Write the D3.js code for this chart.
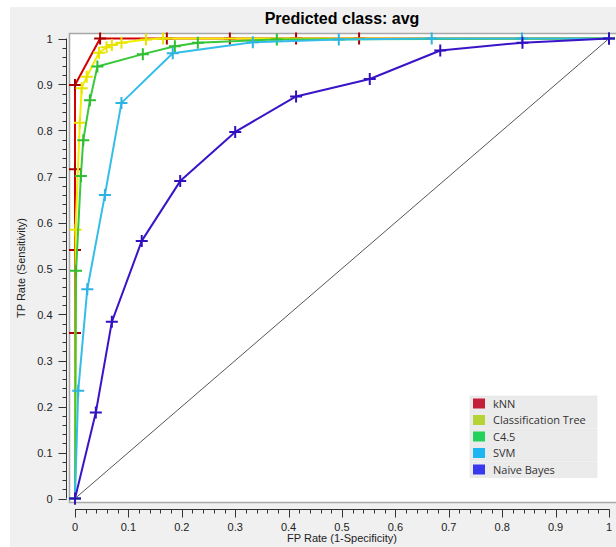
<!DOCTYPE html>
<html><head><meta charset="utf-8">
<script src="https://cdn.jsdelivr.net/npm/d3@7"></script>
<style>html,body{margin:0;padding:0;background:#fff;}svg{display:block;}</style>
</head><body>
<svg id="c" width="616" height="547"></svg>
<script>
// ---- data ----
const learners = ["kNN", "Classification Tree", "C4.5", "SVM", "Naive Bayes"];
const knnFpr  = [0, 0, 0, 0, 0, 0.047, 0.172, 0.29, 0.414, 0.532, 1];
const knnTpr  = [0, 0.36, 0.54, 0.716, 0.899, 1, 1, 1, 1, 1, 1];
const treeFpr = [0, 0.001, 0.009, 0.0125, 0.022, 0.045, 0.059, 0.069, 0.087, 0.133, 0.165, 1];
const treeTpr = [0, 0.584, 0.817, 0.892, 0.917, 0.969, 0.981, 0.986, 0.991, 0.998, 1, 1];
const c45Fpr  = [0, 0.002, 0.011, 0.0155, 0.028, 0.042, 0.127, 0.187, 0.23, 0.378, 1];
const c45Tpr  = [0, 0.495, 0.701, 0.779, 0.866, 0.939, 0.966, 0.983, 0.991, 0.998, 1];
const svmFpr  = [0, 0.006, 0.023, 0.056, 0.087, 0.183, 0.333, 0.494, 0.668, 0.837, 1];
const svmTpr  = [0, 0.234, 0.455, 0.66, 0.86, 0.968, 0.992, 0.998, 1, 1, 1];
const nbFpr   = [0, 0.039, 0.069, 0.125, 0.197, 0.30, 0.414, 0.552, 0.684, 0.838, 1];
const nbTpr   = [0, 0.187, 0.384, 0.56, 0.69, 0.797, 0.874, 0.912, 0.974, 0.991, 1];
const xTicks = [0, 0.1, 0.2, 0.3, 0.4, 0.5, 0.6, 0.7, 0.8, 0.9, 1];
const yTicks = [0, 0.1, 0.2, 0.3, 0.4, 0.5, 0.6, 0.7, 0.8, 0.9, 1];
const title = "Predicted class: avg";
const xTitle = "FP Rate (1-Specificity)";
const yTitle = "TP Rate (Sensitivity)";

// ---- style ----
const lineColors = ["#d40000", "#f2ee00", "#38c83a", "#35bde9", "#3a14c8"];
const markColors = ["#a80000", "#e8e400", "#2fbf32", "#2db4e2", "#3210c0"];
const swatchColors = ["#c41e3a", "#b5d334", "#22d25a", "#1db5f2", "#3838ee"];
const fprs = [knnFpr, treeFpr, c45Fpr, svmFpr, nbFpr];
const tprs = [knnTpr, treeTpr, c45Tpr, svmTpr, nbTpr];

const svg = d3.select("#c");
const font = "'Liberation Sans', Arial, sans-serif";

svg.append("rect").attr("x", 10).attr("y", 7).attr("width", 606).attr("height", 540).attr("fill", "#f0f0f0");
svg.append("rect").attr("x", 69.5).attr("y", 33.5).attr("width", 560).attr("height", 469)
  .attr("fill", "#fff").attr("stroke", "#a8a8a8").attr("stroke-width", 1.5);

const x = d3.scaleLinear().domain([0, 1]).range([75, 609]);
const y = d3.scaleLinear().domain([0, 1]).range([498.5, 38.5]);

// title
svg.append("text").attr("x", 342).attr("y", 24).attr("text-anchor", "middle")
  .attr("font-family", font).attr("font-weight", "bold").attr("font-size", 16).attr("fill", "#000").text(title);

// y axis
const yMinor = d3.range(0, 51).map(i => i / 50);
const yAx = svg.append("g").attr("transform", "translate(66.5,0)");
yAx.append("line").attr("y1", y(0)).attr("y2", y(1)).attr("stroke", "#333");
yAx.selectAll("line.mn").data(yMinor).join("line").attr("class", "mn")
  .attr("x1", -4).attr("x2", 0).attr("y1", d => Math.round(y(d)) + 0.5).attr("y2", d => Math.round(y(d)) + 0.5).attr("stroke", "#333");
yAx.selectAll("line.mj").data(yTicks).join("line").attr("class", "mj")
  .attr("x1", -8).attr("x2", 0).attr("y1", d => Math.round(y(d)) + 0.5).attr("y2", d => Math.round(y(d)) + 0.5).attr("stroke", "#333");
yAx.selectAll("text").data(yTicks).join("text")
  .attr("x", -14).attr("y", d => y(d) + 4).attr("text-anchor", "end")
  .attr("font-family", font).attr("font-size", 11).attr("fill", "#222").text(d => d3.format("")(d));

// x axis
const xMinor = d3.range(0, 51).map(i => i / 50);
const xAx = svg.append("g").attr("transform", "translate(0,509.5)");
xAx.append("line").attr("x1", x(0)).attr("x2", x(1)).attr("stroke", "#333");
xAx.selectAll("line.mn").data(xMinor).join("line").attr("class", "mn")
  .attr("y1", 0).attr("y2", 4).attr("x1", d => Math.round(x(d)) + 0.5).attr("x2", d => Math.round(x(d)) + 0.5).attr("stroke", "#333");
xAx.selectAll("line.mj").data(xTicks).join("line").attr("class", "mj")
  .attr("y1", 0).attr("y2", 8).attr("x1", d => Math.round(x(d)) + 0.5).attr("x2", d => Math.round(x(d)) + 0.5).attr("stroke", "#333");
xAx.selectAll("text").data(xTicks).join("text")
  .attr("x", d => x(d)).attr("y", 21).attr("text-anchor", "middle")
  .attr("font-family", font).attr("font-size", 11).attr("fill", "#222").text(d => d3.format("")(d));

svg.append("text").attr("x", 342).attr("y", 542).attr("text-anchor", "middle")
  .attr("font-family", font).attr("font-size", 11).attr("fill", "#222").text(xTitle);
svg.append("text").attr("transform", "translate(25,268) rotate(-90)").attr("text-anchor", "middle")
  .attr("font-family", font).attr("font-size", 11).attr("fill", "#222").text(yTitle);

// diagonal
svg.append("line").attr("x1", x(0)).attr("y1", y(0)).attr("x2", x(1)).attr("y2", y(1))
  .attr("stroke", "#555").attr("stroke-width", 1);

// curves: each learner's line followed by its markers
const line = d3.line().x(d => x(d[0])).y(d => y(d[1]));
const series = learners.map((name, i) => ({ name, i, pts: fprs[i].map((f, j) => [f, tprs[i][j]]) }));
series.forEach(s => {
  const g = svg.append("g");
  g.append("path").attr("d", line(s.pts)).attr("fill", "none").attr("stroke", lineColors[s.i])
    .attr("stroke-width", 2).attr("stroke-linejoin", "round");
  g.selectAll("path.mk").data(s.pts).join("path").attr("class", "mk")
    .attr("d", p => { const cx = x(p[0]), cy = y(p[1]); return `M${cx - 6},${cy}H${cx + 6}M${cx},${cy - 6}V${cy + 6}`; })
    .attr("stroke", markColors[s.i]).attr("stroke-width", 2).attr("fill", "none");
});

// legend
const lg = svg.append("g");
const rowH = 16.5, ly0 = 396;
learners.forEach((name, i) => {
  const ry = ly0 + i * rowH;
  lg.append("rect").attr("x", 470).attr("y", ry).attr("width", 127).attr("height", rowH - 1)
    .attr("fill", "#ebebeb").attr("stroke", "#e0e0e0").attr("stroke-width", 0.5);
  lg.append("rect").attr("x", 473).attr("y", ry + 2.5).attr("width", 12).attr("height", 10).attr("fill", swatchColors[i]);
  lg.append("text").attr("x", 493).attr("y", ry + 11.5)
    .attr("font-family", "'Open Sans', 'Noto Sans', sans-serif").attr("font-size", 11).attr("fill", "#333").text(name);
});
</script>
</body></html>
